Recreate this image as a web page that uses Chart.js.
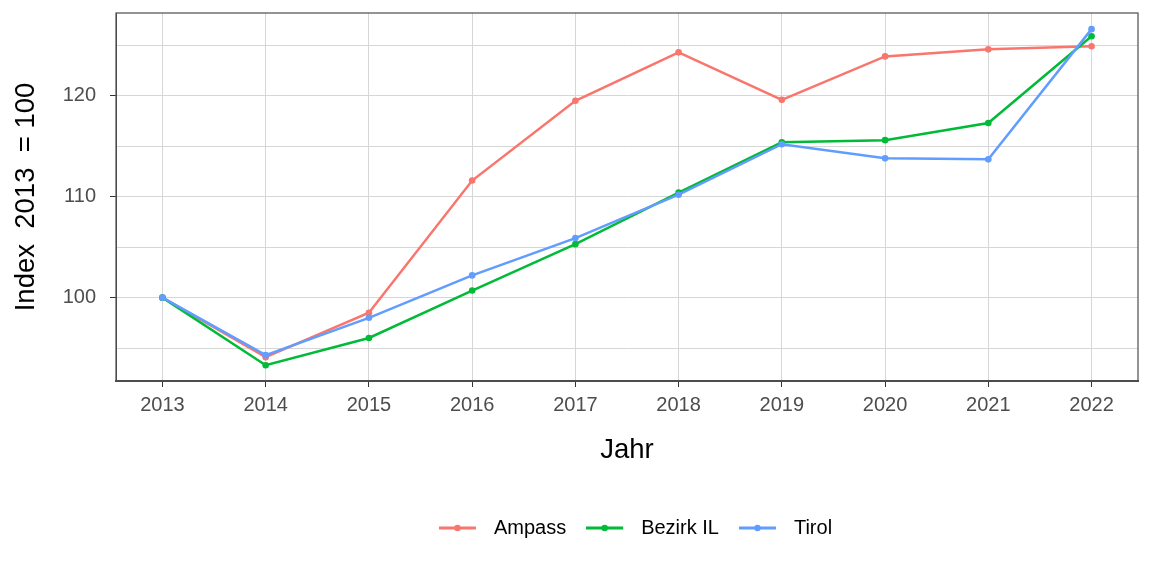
<!DOCTYPE html>
<html>
<head>
<meta charset="utf-8">
<script src="https://cdn.jsdelivr.net/npm/chart.js@4"></script>
<style>
  html, body { margin: 0; padding: 0; background: #fff; }
  #wrap { width: 1152px; height: 576px; }
</style>
</head>
<body>
<div id="wrap"><canvas id="chart"></canvas></div>
<script>
// data
const years = [2013, 2014, 2015, 2016, 2017, 2018, 2019, 2020, 2021, 2022];
const ampass = [100, 94.1, 98.5, 111.6, 119.5, 124.3, 119.6, 123.9, 124.6, 124.9];
const bezirkIL = [100, 93.3, 96.0, 100.7, 105.3, 110.4, 115.4, 115.6, 117.3, 125.9];
const tirol = [100, 94.3, 98.0, 102.2, 105.9, 110.2, 115.2, 113.8, 113.7, 126.6];
const seriesNames = ['Ampass', 'Bezirk IL', 'Tirol'];
const seriesColors = ['#F8766D', '#00BA38', '#619CFF'];
const yTicks = [95, 100, 105, 110, 115, 120, 125];

const FONT = '"Liberation Sans", Arial, sans-serif';

// little "line with a dot" swatch for the legend, like ggplot's key
function keyGlyph(color) {
  const c = document.createElement('canvas');
  c.width = 45; c.height = 10;
  const g = c.getContext('2d');
  g.strokeStyle = color; g.lineWidth = 3;
  g.beginPath(); g.moveTo(0, 5); g.lineTo(37, 5); g.stroke();
  g.fillStyle = color;
  g.beginPath(); g.arc(18.5, 5, 3.2, 0, Math.PI * 2); g.fill();
  return c;
}

const panelFrame = {
  id: 'panelFrame',
  afterLayout(chart) {
    // ggplot centres the legend a bit right of the panel centre
    chart.legend.left += 8.5;
    chart.legend.right += 8.5;
  },
  afterDatasetsDraw(chart) {
    const { ctx, chartArea: a } = chart;
    ctx.save();
    ctx.strokeStyle = '#4D4D4D';
    ctx.lineWidth = 1.2;
    ctx.strokeRect(a.left, a.top, a.right - a.left, a.bottom - a.top);
    ctx.restore();
  }
};

const toPoints = vals => vals.map((v, i) => ({ x: years[i], y: v }));
const allSeries = [ampass, bezirkIL, tirol];

new Chart(document.getElementById('chart'), {
  type: 'line',
  data: {
    datasets: allSeries.map((vals, i) => ({
      label: seriesNames[i],
      data: toPoints(vals),
      borderColor: seriesColors[i],
      backgroundColor: seriesColors[i],
      borderWidth: 2.5,
      pointRadius: 3.3,
      pointBorderWidth: 0,
      pointBackgroundColor: seriesColors[i],
      tension: 0,
      order: 3 - i
    }))
  },
  options: {
    responsive: true, maintainAspectRatio: false, animation: false,
    layout: { padding: { top: 13, right: 14, bottom: 28, left: 0 } },
    plugins: {
      tooltip: { enabled: false },
      legend: {
        position: 'bottom', fullSize: false,
        labels: {
          usePointStyle: true, pointStyleWidth: 45, padding: 20, color: '#000',
          font: { family: FONT, size: 20 },
          sort: (a, b) => a.datasetIndex - b.datasetIndex,
          generateLabels(chart) {
            return Chart.defaults.plugins.legend.labels.generateLabels(chart)
              .map(l => Object.assign(l, { pointStyle: keyGlyph(seriesColors[l.datasetIndex]) }));
          }
        }
      }
    },
    scales: {
      x: {
        type: 'linear', min: 2012.55, max: 2022.45,
        afterBuildTicks: s => { s.ticks = years.map(v => ({ value: v })); },
        afterFit: s => { s.height = 117; s.paddingLeft = 0; s.paddingRight = 0; },
        grid: { color: '#D6D6D6', lineWidth: 1, tickColor: '#333', tickLength: 6 },
        border: { color: '#4D4D4D', width: 2 },
        ticks: { color: '#4D4D4D', font: { family: FONT, size: 20 }, padding: 6, maxRotation: 0, callback: v => String(v) },
        title: { display: true, text: 'Jahr', color: '#000', font: { family: FONT, size: 27.5 }, padding: { top: 0, bottom: 31 } }
      },
      y: {
        min: 91.74, max: 128.2,
        afterBuildTicks: s => { s.ticks = yTicks.map(v => ({ value: v })); },
        afterFit: s => { s.width = 116; s.paddingTop = 0; s.paddingBottom = 0; },
        grid: {
          color: '#D6D6D6', lineWidth: 1, tickLength: 6,
          tickColor: c => (c.tick && c.tick.value % 10 === 0) ? '#333' : 'rgba(0,0,0,0)'
        },
        border: { color: '#4D4D4D', width: 1 },
        ticks: { color: '#4D4D4D', font: { family: FONT, size: 20 }, padding: 14, callback: v => (v % 10 === 0 ? String(v) : '') },
        title: { display: true, text: 'Index  2013  = 100', color: '#000', font: { family: FONT, size: 27.5 }, padding: { top: 10, bottom: 0 } }
      }
    }
  },
  plugins: [panelFrame]
});
</script>
</body>
</html>
